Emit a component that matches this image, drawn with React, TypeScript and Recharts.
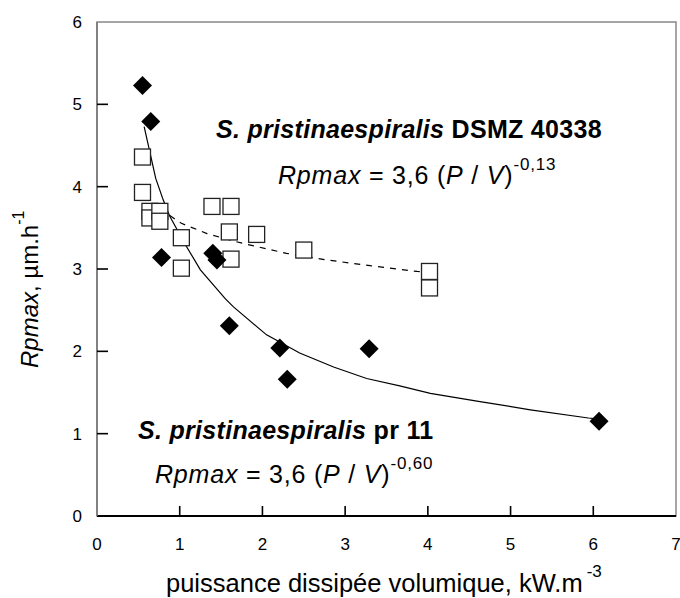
import React from "react";
import { ScatterChart, Scatter, XAxis, YAxis } from "recharts";

// S. pristinaespiralis pr 11 (filled diamonds)
const pr11X = [0.55, 0.65, 0.78, 1.4, 1.45, 1.6, 2.21, 2.3, 3.29, 6.07];
const pr11Y = [5.23, 4.79, 3.14, 3.19, 3.11, 2.31, 2.04, 1.66, 2.03, 1.15];

// S. pristinaespiralis DSMZ 40338 (open squares)
const dsmzX = [0.55, 0.55, 0.64, 0.64, 0.76, 0.76, 1.02, 1.02, 1.39, 1.62, 1.6, 1.62, 1.93, 2.5, 4.02, 4.02];
const dsmzY = [4.36, 3.93, 3.7, 3.62, 3.7, 3.58, 3.38, 3.01, 3.76, 3.76, 3.45, 3.12, 3.42, 3.23, 2.97, 2.77];

// fitted curves
const fitPrX = [0.57, 0.71, 0.8, 0.88, 1.06, 1.25, 1.55, 1.65, 2.05, 2.45, 2.86, 3.26, 3.66, 4.03, 4.63, 5.24, 5.94, 6.05];
const fitPrY = [4.73, 4.1, 3.84, 3.64, 3.31, 2.99, 2.64, 2.54, 2.2, 1.98, 1.81, 1.67, 1.58, 1.49, 1.39, 1.29, 1.19, 1.18];
const fitDsX = [0.76, 0.88, 1.02, 1.33, 1.65, 1.81, 2.29, 2.78, 3.3, 3.87, 4.0];
const fitDsY = [3.73, 3.65, 3.555, 3.43, 3.34, 3.3, 3.19, 3.11, 3.04, 2.97, 2.96];

const xTicks = [0, 1, 2, 3, 4, 5, 6, 7];
const yTicks = [0, 1, 2, 3, 4, 5, 6];

const zip = (xs: number[], ys: number[]) => xs.map((x, i) => ({ x, y: ys[i] }));

const W = 680;
const H = 598;
const L = 97;
const T = 22;
const R = 676;
const B = 516;
const FONT = "'Liberation Sans', Arial, sans-serif";

const Diamond = (p: any) => {
  const { cx, cy } = p;
  const s = 9.5;
  return <polygon points={`${cx},${cy - s} ${cx + s},${cy} ${cx},${cy + s} ${cx - s},${cy}`} fill="#000" />;
};

const Square = (p: any) => {
  const { cx, cy } = p;
  const s = 8;
  return <rect x={cx - s} y={cy - s} width={s * 2} height={s * 2} fill="#fff" stroke="#222" strokeWidth={1.3} />;
};

const NoDot = () => <g />;

// tick label plus an inward tick mark (drawn as a filled rect)
const renderXTick = (p: any) => {
  const { x, payload } = p;
  const v = Number(payload.value);
  return (
    <g>
      {v > 0 && v < 7 ? <rect x={x - 0.8} y={B - 10} width={1.6} height={10} fill="#000" /> : null}
      <text x={x} y={550} textAnchor="middle" fontSize={17} fontFamily={FONT} fill="#000">
        {payload.value}
      </text>
    </g>
  );
};

const renderYTick = (p: any) => {
  const { y, payload } = p;
  const v = Number(payload.value);
  return (
    <g>
      {v > 0 && v < 6 ? <rect x={L} y={y - 0.8} width={11} height={1.6} fill="#000" /> : null}
      <text x={82} y={y + 6} textAnchor="end" fontSize={17} fontFamily={FONT} fill="#000">
        {payload.value}
      </text>
    </g>
  );
};

export default function App() {
  return (
    <div style={{ position: "absolute", left: 0, top: 0, background: "#fff" }}>
      <ScatterChart width={W} height={H} margin={{ top: T, right: W - R, bottom: H - B - 30, left: L - 30 }}>
        <rect x={L} y={T} width={R - L} height={B - T} fill="none" stroke="#888" strokeWidth={1.5} />
        <XAxis
          type="number"
          dataKey="x"
          domain={[0, 7]}
          ticks={xTicks}
          height={30}
          tickLine={false}
          axisLine={{ stroke: "#000", strokeWidth: 2 }}
          tick={renderXTick}
          interval={0}
        />
        <YAxis
          type="number"
          dataKey="y"
          domain={[0, 6]}
          ticks={yTicks}
          width={30}
          tickLine={false}
          axisLine={{ stroke: "#777", strokeWidth: 1.5 }}
          tick={renderYTick}
          interval={0}
        />
        <Scatter data={zip(fitPrX, fitPrY)} line={{ stroke: "#000", strokeWidth: 1.2 }} shape={<NoDot />} isAnimationActive={false} />
        <Scatter
          data={zip(fitDsX, fitDsY)}
          line={{ stroke: "#000", strokeWidth: 1.2, strokeDasharray: "6 6" }}
          shape={<NoDot />}
          isAnimationActive={false}
        />
        <Scatter data={zip(dsmzX, dsmzY)} shape={<Square />} isAnimationActive={false} />
        <Scatter data={zip(pr11X, pr11Y)} shape={<Diamond />} isAnimationActive={false} />

        <text x={216} y={138} fontSize={25} letterSpacing={0.3} fontWeight="bold" fontFamily={FONT} fill="#000">
          <tspan fontStyle="italic">S. pristinaespiralis</tspan> DSMZ 40338
        </text>
        <text x={278} y={184} fontSize={25} letterSpacing={0.8} fontFamily={FONT} fill="#000">
          <tspan fontStyle="italic">Rpmax</tspan> = 3,6 (<tspan fontStyle="italic">P</tspan> / <tspan fontStyle="italic">V</tspan>)
          <tspan fontSize={17} dy={-14}>-0,13</tspan>
        </text>
        <text x={138} y={439} fontSize={25} letterSpacing={0.3} fontWeight="bold" fontFamily={FONT} fill="#000">
          <tspan fontStyle="italic">S. pristinaespiralis</tspan> pr 11
        </text>
        <text x={155} y={483} fontSize={25} letterSpacing={0.8} fontFamily={FONT} fill="#000">
          <tspan fontStyle="italic">Rpmax</tspan> = 3,6 (<tspan fontStyle="italic">P</tspan> / <tspan fontStyle="italic">V</tspan>)
          <tspan fontSize={17} dy={-14}>-0,60</tspan>
        </text>
        <text x={166} y={592} fontSize={25.5} fontFamily={FONT} fill="#000">
          puissance dissipée volumique, kW.m<tspan fontSize={17} dx={4} dy={-15}>-3</tspan>
        </text>
        <text transform="rotate(-90)" x={-368} y={38} fontSize={24} fontFamily={FONT} fill="#000">
          <tspan fontStyle="italic">Rpmax</tspan>, µm.h<tspan fontSize={16} dy={-14}>-1</tspan>
        </text>
      </ScatterChart>
    </div>
  );
}
